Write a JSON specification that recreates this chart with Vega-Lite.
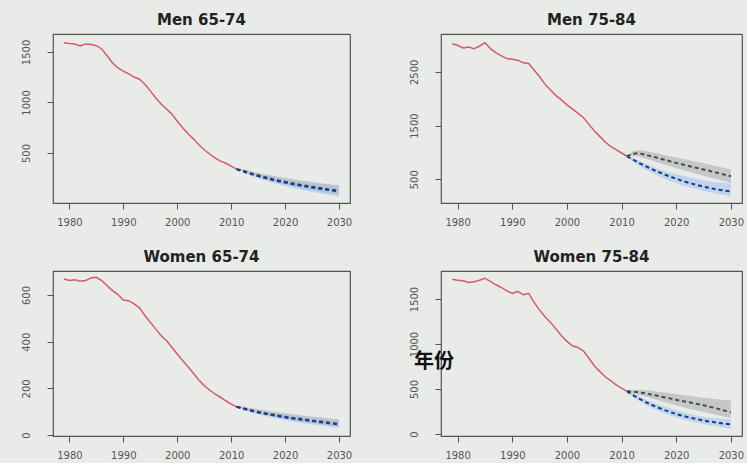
{
 "$schema": "https://vega.github.io/schema/vega-lite/v6.json",
 "background": "#e9ebe8",
 "padding": {"left": 20, "top": 12, "right": 2, "bottom": 2},
 "config": {
  "view": {"stroke": "#555", "strokeWidth": 1.2},
  "axis": {"domain": false, "grid": false, "tickColor": "#555", "tickSize": 6, "tickWidth": 1, "labelFont": "DejaVu Sans", "labelFontSize": 10, "labelColor": "#555", "labelFlush": false, "labelOverlap": false},
  "axisX": {"labelPadding": 8},
  "axisY": {"labelPadding": 16},
  "title": {"font": "DejaVu Sans", "fontSize": 15, "fontWeight": "bold", "color": "#222", "offset": 6}
 },
 "datasets": {"rates": [
  {"p":"Men 65-74","year":1979,"obs":1592},{"p":"Men 65-74","year":1980,"obs":1584},{"p":"Men 65-74","year":1981,"obs":1578},{"p":"Men 65-74","year":1982,"obs":1560},{"p":"Men 65-74","year":1983,"obs":1580},{"p":"Men 65-74","year":1984,"obs":1575},{"p":"Men 65-74","year":1985,"obs":1562},{"p":"Men 65-74","year":1986,"obs":1530},{"p":"Men 65-74","year":1987,"obs":1462},{"p":"Men 65-74","year":1988,"obs":1392},{"p":"Men 65-74","year":1989,"obs":1342},{"p":"Men 65-74","year":1990,"obs":1310},{"p":"Men 65-74","year":1991,"obs":1283},{"p":"Men 65-74","year":1992,"obs":1252},{"p":"Men 65-74","year":1993,"obs":1230},{"p":"Men 65-74","year":1994,"obs":1180},{"p":"Men 65-74","year":1995,"obs":1115},{"p":"Men 65-74","year":1996,"obs":1047},{"p":"Men 65-74","year":1997,"obs":985},{"p":"Men 65-74","year":1998,"obs":935},{"p":"Men 65-74","year":1999,"obs":885},{"p":"Men 65-74","year":2000,"obs":815},{"p":"Men 65-74","year":2001,"obs":750},{"p":"Men 65-74","year":2002,"obs":690},{"p":"Men 65-74","year":2003,"obs":640},{"p":"Men 65-74","year":2004,"obs":582},{"p":"Men 65-74","year":2005,"obs":532},{"p":"Men 65-74","year":2006,"obs":490},{"p":"Men 65-74","year":2007,"obs":452},{"p":"Men 65-74","year":2008,"obs":420},{"p":"Men 65-74","year":2009,"obs":398},{"p":"Men 65-74","year":2010,"obs":370},
  {"p":"Men 65-74","year":2011,"obs":340,"g":340,"glo":340,"ghi":340,"b":340,"blo":340,"bhi":340},
  {"p":"Men 65-74","year":2012,"g":329,"glo":325,"ghi":341,"b":321,"blo":313,"bhi":329},
  {"p":"Men 65-74","year":2013,"g":311,"glo":305,"ghi":328,"b":303,"blo":290,"bhi":316},
  {"p":"Men 65-74","year":2014,"g":294,"glo":284,"ghi":315,"b":286,"blo":269,"bhi":303},
  {"p":"Men 65-74","year":2015,"g":279,"glo":265,"ghi":304,"b":271,"blo":250,"bhi":292},
  {"p":"Men 65-74","year":2016,"g":264,"glo":247,"ghi":292,"b":256,"blo":232,"bhi":280},
  {"p":"Men 65-74","year":2017,"g":251,"glo":231,"ghi":282,"b":243,"blo":216,"bhi":270},
  {"p":"Men 65-74","year":2018,"g":238,"glo":215,"ghi":272,"b":230,"blo":200,"bhi":260},
  {"p":"Men 65-74","year":2019,"g":226,"glo":201,"ghi":262,"b":218,"blo":186,"bhi":250},
  {"p":"Men 65-74","year":2020,"g":215,"glo":188,"ghi":253,"b":207,"blo":173,"bhi":241},
  {"p":"Men 65-74","year":2021,"g":204,"glo":175,"ghi":244,"b":196,"blo":160,"bhi":232},
  {"p":"Men 65-74","year":2022,"g":194,"glo":163,"ghi":236,"b":186,"blo":148,"bhi":224},
  {"p":"Men 65-74","year":2023,"g":184,"glo":151,"ghi":228,"b":176,"blo":136,"bhi":216},
  {"p":"Men 65-74","year":2024,"g":175,"glo":141,"ghi":220,"b":167,"blo":126,"bhi":208},
  {"p":"Men 65-74","year":2025,"g":166,"glo":130,"ghi":213,"b":158,"blo":115,"bhi":201},
  {"p":"Men 65-74","year":2026,"g":158,"glo":121,"ghi":206,"b":150,"blo":106,"bhi":194},
  {"p":"Men 65-74","year":2027,"g":150,"glo":112,"ghi":199,"b":142,"blo":97,"bhi":187},
  {"p":"Men 65-74","year":2028,"g":142,"glo":103,"ghi":192,"b":134,"blo":88,"bhi":180},
  {"p":"Men 65-74","year":2029,"g":135,"glo":95,"ghi":186,"b":127,"blo":80,"bhi":174},
  {"p":"Men 65-74","year":2030,"g":128,"glo":87,"ghi":180,"b":120,"blo":72,"bhi":168},

  {"p":"Men 75-84","year":1979,"obs":3024},{"p":"Men 75-84","year":1980,"obs":2995},{"p":"Men 75-84","year":1981,"obs":2945},{"p":"Men 75-84","year":1982,"obs":2963},{"p":"Men 75-84","year":1983,"obs":2932},{"p":"Men 75-84","year":1984,"obs":2976},{"p":"Men 75-84","year":1985,"obs":3043},{"p":"Men 75-84","year":1986,"obs":2932},{"p":"Men 75-84","year":1987,"obs":2858},{"p":"Men 75-84","year":1988,"obs":2797},{"p":"Men 75-84","year":1989,"obs":2747},{"p":"Men 75-84","year":1990,"obs":2735},{"p":"Men 75-84","year":1991,"obs":2717},{"p":"Men 75-84","year":1992,"obs":2667},{"p":"Men 75-84","year":1993,"obs":2655},{"p":"Men 75-84","year":1994,"obs":2532},{"p":"Men 75-84","year":1995,"obs":2408},{"p":"Men 75-84","year":1996,"obs":2266},{"p":"Men 75-84","year":1997,"obs":2162},{"p":"Men 75-84","year":1998,"obs":2057},{"p":"Men 75-84","year":1999,"obs":1977},{"p":"Men 75-84","year":2000,"obs":1884},{"p":"Men 75-84","year":2001,"obs":1810},{"p":"Men 75-84","year":2002,"obs":1730},{"p":"Men 75-84","year":2003,"obs":1650},{"p":"Men 75-84","year":2004,"obs":1526},{"p":"Men 75-84","year":2005,"obs":1404},{"p":"Men 75-84","year":2006,"obs":1298},{"p":"Men 75-84","year":2007,"obs":1193},{"p":"Men 75-84","year":2008,"obs":1113},{"p":"Men 75-84","year":2009,"obs":1052},{"p":"Men 75-84","year":2010,"obs":989},
  {"p":"Men 75-84","year":2011,"obs":928,"g":928,"glo":928,"ghi":928,"b":928,"blo":928,"bhi":928},
  {"p":"Men 75-84","year":2012,"g":975,"glo":935,"ghi":1015,"b":870,"blo":830,"bhi":905},
  {"p":"Men 75-84","year":2013,"g":985,"glo":930,"ghi":1040,"b":815,"blo":760,"bhi":855},
  {"p":"Men 75-84","year":2014,"g":965,"glo":900,"ghi":1030,"b":763,"blo":700,"bhi":810},
  {"p":"Men 75-84","year":2015,"g":940,"glo":868,"ghi":1012,"b":714,"blo":645,"bhi":765},
  {"p":"Men 75-84","year":2016,"g":915,"glo":837,"ghi":993,"b":668,"blo":595,"bhi":725},
  {"p":"Men 75-84","year":2017,"g":888,"glo":804,"ghi":972,"b":625,"blo":550,"bhi":685},
  {"p":"Men 75-84","year":2018,"g":860,"glo":771,"ghi":949,"b":584,"blo":505,"bhi":650},
  {"p":"Men 75-84","year":2019,"g":832,"glo":738,"ghi":926,"b":545,"blo":465,"bhi":620},
  {"p":"Men 75-84","year":2020,"g":805,"glo":707,"ghi":903,"b":508,"blo":430,"bhi":595},
  {"p":"Men 75-84","year":2021,"g":780,"glo":678,"ghi":882,"b":474,"blo":395,"bhi":570},
  {"p":"Men 75-84","year":2022,"g":755,"glo":649,"ghi":861,"b":443,"blo":365,"bhi":545},
  {"p":"Men 75-84","year":2023,"g":730,"glo":620,"ghi":840,"b":414,"blo":335,"bhi":520},
  {"p":"Men 75-84","year":2024,"g":706,"glo":593,"ghi":819,"b":387,"blo":310,"bhi":500},
  {"p":"Men 75-84","year":2025,"g":682,"glo":566,"ghi":798,"b":362,"blo":285,"bhi":480},
  {"p":"Men 75-84","year":2026,"g":657,"glo":539,"ghi":775,"b":340,"blo":260,"bhi":465},
  {"p":"Men 75-84","year":2027,"g":632,"glo":512,"ghi":752,"b":320,"blo":240,"bhi":450},
  {"p":"Men 75-84","year":2028,"g":607,"glo":485,"ghi":729,"b":302,"blo":220,"bhi":440},
  {"p":"Men 75-84","year":2029,"g":582,"glo":458,"ghi":706,"b":286,"blo":200,"bhi":430},
  {"p":"Men 75-84","year":2030,"g":555,"glo":430,"ghi":680,"b":272,"blo":180,"bhi":420},

  {"p":"Women 65-74","year":1979,"obs":669},{"p":"Women 65-74","year":1980,"obs":662},{"p":"Women 65-74","year":1981,"obs":665},{"p":"Women 65-74","year":1982,"obs":659},{"p":"Women 65-74","year":1983,"obs":662},{"p":"Women 65-74","year":1984,"obs":673},{"p":"Women 65-74","year":1985,"obs":676},{"p":"Women 65-74","year":1986,"obs":662},{"p":"Women 65-74","year":1987,"obs":640},{"p":"Women 65-74","year":1988,"obs":619},{"p":"Women 65-74","year":1989,"obs":602},{"p":"Women 65-74","year":1990,"obs":579},{"p":"Women 65-74","year":1991,"obs":576},{"p":"Women 65-74","year":1992,"obs":562},{"p":"Women 65-74","year":1993,"obs":545},{"p":"Women 65-74","year":1994,"obs":512},{"p":"Women 65-74","year":1995,"obs":483},{"p":"Women 65-74","year":1996,"obs":455},{"p":"Women 65-74","year":1997,"obs":426},{"p":"Women 65-74","year":1998,"obs":405},{"p":"Women 65-74","year":1999,"obs":376},{"p":"Women 65-74","year":2000,"obs":347},{"p":"Women 65-74","year":2001,"obs":319},{"p":"Women 65-74","year":2002,"obs":293},{"p":"Women 65-74","year":2003,"obs":265},{"p":"Women 65-74","year":2004,"obs":236},{"p":"Women 65-74","year":2005,"obs":212},{"p":"Women 65-74","year":2006,"obs":193},{"p":"Women 65-74","year":2007,"obs":176},{"p":"Women 65-74","year":2008,"obs":162},{"p":"Women 65-74","year":2009,"obs":147},{"p":"Women 65-74","year":2010,"obs":133},
  {"p":"Women 65-74","year":2011,"obs":121,"g":121,"glo":121,"ghi":121,"b":121,"blo":121,"bhi":121},
  {"p":"Women 65-74","year":2012,"g":117,"glo":115,"ghi":123,"b":114,"blo":110,"bhi":118},
  {"p":"Women 65-74","year":2013,"g":111,"glo":107,"ghi":119,"b":108,"blo":102,"bhi":114},
  {"p":"Women 65-74","year":2014,"g":105,"glo":100,"ghi":115,"b":102,"blo":95,"bhi":110},
  {"p":"Women 65-74","year":2015,"g":100,"glo":94,"ghi":111,"b":97,"blo":89,"bhi":106},
  {"p":"Women 65-74","year":2016,"g":95,"glo":88,"ghi":107,"b":92,"blo":83,"bhi":102},
  {"p":"Women 65-74","year":2017,"g":91,"glo":83,"ghi":103,"b":88,"blo":78,"bhi":98},
  {"p":"Women 65-74","year":2018,"g":87,"glo":78,"ghi":100,"b":84,"blo":73,"bhi":95},
  {"p":"Women 65-74","year":2019,"g":83,"glo":74,"ghi":97,"b":80,"blo":69,"bhi":92},
  {"p":"Women 65-74","year":2020,"g":79,"glo":69,"ghi":94,"b":76,"blo":64,"bhi":89},
  {"p":"Women 65-74","year":2021,"g":75,"glo":65,"ghi":91,"b":72,"blo":60,"bhi":86},
  {"p":"Women 65-74","year":2022,"g":72,"glo":61,"ghi":88,"b":69,"blo":56,"bhi":83},
  {"p":"Women 65-74","year":2023,"g":69,"glo":58,"ghi":85,"b":66,"blo":53,"bhi":80},
  {"p":"Women 65-74","year":2024,"g":66,"glo":54,"ghi":82,"b":63,"blo":49,"bhi":77},
  {"p":"Women 65-74","year":2025,"g":63,"glo":51,"ghi":80,"b":60,"blo":46,"bhi":75},
  {"p":"Women 65-74","year":2026,"g":60,"glo":48,"ghi":77,"b":57,"blo":43,"bhi":72},
  {"p":"Women 65-74","year":2027,"g":57,"glo":45,"ghi":75,"b":54,"blo":40,"bhi":70},
  {"p":"Women 65-74","year":2028,"g":54,"glo":42,"ghi":72,"b":51,"blo":37,"bhi":67},
  {"p":"Women 65-74","year":2029,"g":51,"glo":39,"ghi":70,"b":48,"blo":34,"bhi":65},
  {"p":"Women 65-74","year":2030,"g":48,"glo":36,"ghi":68,"b":45,"blo":31,"bhi":63},

  {"p":"Women 75-84","year":1979,"obs":1720},{"p":"Women 75-84","year":1980,"obs":1709},{"p":"Women 75-84","year":1981,"obs":1702},{"p":"Women 75-84","year":1982,"obs":1684},{"p":"Women 75-84","year":1983,"obs":1691},{"p":"Women 75-84","year":1984,"obs":1709},{"p":"Women 75-84","year":1985,"obs":1731},{"p":"Women 75-84","year":1986,"obs":1695},{"p":"Women 75-84","year":1987,"obs":1658},{"p":"Women 75-84","year":1988,"obs":1628},{"p":"Women 75-84","year":1989,"obs":1591},{"p":"Women 75-84","year":1990,"obs":1562},{"p":"Women 75-84","year":1991,"obs":1584},{"p":"Women 75-84","year":1992,"obs":1547},{"p":"Women 75-84","year":1993,"obs":1562},{"p":"Women 75-84","year":1994,"obs":1462},{"p":"Women 75-84","year":1995,"obs":1376},{"p":"Women 75-84","year":1996,"obs":1302},{"p":"Women 75-84","year":1997,"obs":1240},{"p":"Women 75-84","year":1998,"obs":1166},{"p":"Women 75-84","year":1999,"obs":1091},{"p":"Women 75-84","year":2000,"obs":1029},{"p":"Women 75-84","year":2001,"obs":980},{"p":"Women 75-84","year":2002,"obs":962},{"p":"Women 75-84","year":2003,"obs":925},{"p":"Women 75-84","year":2004,"obs":844},{"p":"Women 75-84","year":2005,"obs":758},{"p":"Women 75-84","year":2006,"obs":696},{"p":"Women 75-84","year":2007,"obs":636},{"p":"Women 75-84","year":2008,"obs":592},{"p":"Women 75-84","year":2009,"obs":547},{"p":"Women 75-84","year":2010,"obs":511},
  {"p":"Women 75-84","year":2011,"obs":474,"g":474,"glo":474,"ghi":474,"b":474,"blo":474,"bhi":474},
  {"p":"Women 75-84","year":2012,"g":472,"glo":455,"ghi":490,"b":436,"blo":418,"bhi":455},
  {"p":"Women 75-84","year":2013,"g":465,"glo":440,"ghi":492,"b":400,"blo":376,"bhi":424},
  {"p":"Women 75-84","year":2014,"g":455,"glo":422,"ghi":489,"b":368,"blo":340,"bhi":396},
  {"p":"Women 75-84","year":2015,"g":443,"glo":405,"ghi":483,"b":338,"blo":306,"bhi":370},
  {"p":"Women 75-84","year":2016,"g":431,"glo":388,"ghi":476,"b":311,"blo":276,"bhi":346},
  {"p":"Women 75-84","year":2017,"g":419,"glo":370,"ghi":468,"b":286,"blo":249,"bhi":323},
  {"p":"Women 75-84","year":2018,"g":406,"glo":353,"ghi":460,"b":263,"blo":225,"bhi":302},
  {"p":"Women 75-84","year":2019,"g":393,"glo":335,"ghi":452,"b":242,"blo":203,"bhi":282},
  {"p":"Women 75-84","year":2020,"g":380,"glo":318,"ghi":444,"b":222,"blo":183,"bhi":263},
  {"p":"Women 75-84","year":2021,"g":368,"glo":302,"ghi":435,"b":205,"blo":166,"bhi":246},
  {"p":"Women 75-84","year":2022,"g":356,"glo":287,"ghi":427,"b":190,"blo":151,"bhi":230},
  {"p":"Women 75-84","year":2023,"g":344,"glo":272,"ghi":419,"b":176,"blo":137,"bhi":216},
  {"p":"Women 75-84","year":2024,"g":332,"glo":258,"ghi":411,"b":163,"blo":124,"bhi":203},
  {"p":"Women 75-84","year":2025,"g":320,"glo":244,"ghi":403,"b":151,"blo":112,"bhi":191},
  {"p":"Women 75-84","year":2026,"g":305,"glo":230,"ghi":396,"b":140,"blo":100,"bhi":182},
  {"p":"Women 75-84","year":2027,"g":290,"glo":216,"ghi":389,"b":131,"blo":89,"bhi":175},
  {"p":"Women 75-84","year":2028,"g":274,"glo":203,"ghi":383,"b":122,"blo":79,"bhi":169},
  {"p":"Women 75-84","year":2029,"g":257,"glo":190,"ghi":378,"b":114,"blo":69,"bhi":164},
  {"p":"Women 75-84","year":2030,"g":240,"glo":178,"ghi":372,"b":107,"blo":60,"bhi":160}
 ],
 "note": [{"label": "年份", "year": 1975.7, "value": 800}]},
 "columns": 2,
 "spacing": {"row": 68, "column": 91},
 "bounds": "flush",
 "concat": [
   {"width": 297, "height": 169, "title": "Men 65-74",
    "encoding": {"x": {"field": "year", "type": "quantitative", "title": null, "scale": {"domain": [1976.96, 2032.04], "nice": false, "zero": false}, "axis": {"values": [1980, 1990, 2000, 2010, 2020, 2030], "format": "d"}}},
    "layer": [
     {"data": {"name": "rates"}, "transform": [{"filter": "datum.p == 'Men 65-74'"}], "mark": {"type": "area", "color": "#a9acab", "opacity": 0.55}, "encoding": {"y": {"field": "glo", "type": "quantitative", "title": null, "scale": {"domain": [5, 1678], "nice": false, "zero": false}, "axis": {"values": [500, 1000, 1500], "format": "d", "labelAngle": -90, "encode": {"labels": {"update": {"angle": {"value": -90}, "align": {"value": "center"}, "baseline": {"value": "bottom"}}}}}}, "y2": {"field": "ghi"}}},
     {"data": {"name": "rates"}, "transform": [{"filter": "datum.p == 'Men 65-74'"}], "mark": {"type": "area", "color": "#9cc3f0", "opacity": 0.55}, "encoding": {"y": {"field": "blo", "type": "quantitative", "title": null}, "y2": {"field": "bhi"}}},
     {"data": {"name": "rates"}, "transform": [{"filter": "datum.p == 'Men 65-74'"}], "mark": {"type": "line", "color": "#d65a6e", "strokeWidth": 1.5}, "encoding": {"y": {"field": "obs", "type": "quantitative", "title": null}}},
     {"data": {"name": "rates"}, "transform": [{"filter": "datum.p == 'Men 65-74'"}], "mark": {"type": "line", "color": "#4a4a4a", "strokeWidth": 2, "strokeDash": [4, 3]}, "encoding": {"y": {"field": "g", "type": "quantitative", "title": null}}},
     {"data": {"name": "rates"}, "transform": [{"filter": "datum.p == 'Men 65-74'"}], "mark": {"type": "line", "color": "#1c3a8c", "strokeWidth": 2, "strokeDash": [4, 3]}, "encoding": {"y": {"field": "b", "type": "quantitative", "title": null}}}
    ]},
   {"width": 301, "height": 169, "title": "Men 75-84",
    "encoding": {"x": {"field": "year", "type": "quantitative", "title": null, "scale": {"domain": [1976.96, 2032.04], "nice": false, "zero": false}, "axis": {"values": [1980, 1990, 2000, 2010, 2020, 2030], "format": "d"}}},
    "layer": [
     {"data": {"name": "rates"}, "transform": [{"filter": "datum.p == 'Men 75-84'"}], "mark": {"type": "area", "color": "#a9acab", "opacity": 0.55}, "encoding": {"y": {"field": "glo", "type": "quantitative", "title": null, "scale": {"domain": [58, 3204], "nice": false, "zero": false}, "axis": {"values": [500, 1500, 2500], "format": "d", "labelAngle": -90, "encode": {"labels": {"update": {"angle": {"value": -90}, "align": {"value": "center"}, "baseline": {"value": "bottom"}}}}}}, "y2": {"field": "ghi"}}},
     {"data": {"name": "rates"}, "transform": [{"filter": "datum.p == 'Men 75-84'"}], "mark": {"type": "area", "color": "#9cc3f0", "opacity": 0.55}, "encoding": {"y": {"field": "blo", "type": "quantitative", "title": null}, "y2": {"field": "bhi"}}},
     {"data": {"name": "rates"}, "transform": [{"filter": "datum.p == 'Men 75-84'"}], "mark": {"type": "line", "color": "#d65a6e", "strokeWidth": 1.5}, "encoding": {"y": {"field": "obs", "type": "quantitative", "title": null}}},
     {"data": {"name": "rates"}, "transform": [{"filter": "datum.p == 'Men 75-84'"}], "mark": {"type": "line", "color": "#4a4a4a", "strokeWidth": 2, "strokeDash": [4, 3]}, "encoding": {"y": {"field": "g", "type": "quantitative", "title": null}}},
     {"data": {"name": "rates"}, "transform": [{"filter": "datum.p == 'Men 75-84'"}], "mark": {"type": "line", "color": "#1c3a8c", "strokeWidth": 2, "strokeDash": [4, 3]}, "encoding": {"y": {"field": "b", "type": "quantitative", "title": null}}}
    ]},
   {"width": 297, "height": 165, "title": "Women 65-74",
    "encoding": {"x": {"field": "year", "type": "quantitative", "title": null, "scale": {"domain": [1976.96, 2032.04], "nice": false, "zero": false}, "axis": {"values": [1980, 1990, 2000, 2010, 2020, 2030], "format": "d"}}},
    "layer": [
     {"data": {"name": "rates"}, "transform": [{"filter": "datum.p == 'Women 65-74'"}], "mark": {"type": "area", "color": "#a9acab", "opacity": 0.55}, "encoding": {"y": {"field": "glo", "type": "quantitative", "title": null, "scale": {"domain": [-4, 703], "nice": false, "zero": false}, "axis": {"values": [0, 200, 400, 600], "format": "d", "labelAngle": -90, "encode": {"labels": {"update": {"angle": {"value": -90}, "align": {"value": "center"}, "baseline": {"value": "bottom"}}}}}}, "y2": {"field": "ghi"}}},
     {"data": {"name": "rates"}, "transform": [{"filter": "datum.p == 'Women 65-74'"}], "mark": {"type": "area", "color": "#9cc3f0", "opacity": 0.55}, "encoding": {"y": {"field": "blo", "type": "quantitative", "title": null}, "y2": {"field": "bhi"}}},
     {"data": {"name": "rates"}, "transform": [{"filter": "datum.p == 'Women 65-74'"}], "mark": {"type": "line", "color": "#d65a6e", "strokeWidth": 1.5}, "encoding": {"y": {"field": "obs", "type": "quantitative", "title": null}}},
     {"data": {"name": "rates"}, "transform": [{"filter": "datum.p == 'Women 65-74'"}], "mark": {"type": "line", "color": "#4a4a4a", "strokeWidth": 2, "strokeDash": [4, 3]}, "encoding": {"y": {"field": "g", "type": "quantitative", "title": null}}},
     {"data": {"name": "rates"}, "transform": [{"filter": "datum.p == 'Women 65-74'"}], "mark": {"type": "line", "color": "#1c3a8c", "strokeWidth": 2, "strokeDash": [4, 3]}, "encoding": {"y": {"field": "b", "type": "quantitative", "title": null}}}
    ]},
   {"width": 301, "height": 165, "title": "Women 75-84",
    "encoding": {"x": {"field": "year", "type": "quantitative", "title": null, "scale": {"domain": [1976.96, 2032.04], "nice": false, "zero": false}, "axis": {"values": [1980, 1990, 2000, 2010, 2020, 2030], "format": "d"}}},
    "layer": [
     {"data": {"name": "rates"}, "transform": [{"filter": "datum.p == 'Women 75-84'"}], "mark": {"type": "area", "color": "#a9acab", "opacity": 0.55}, "encoding": {"y": {"field": "glo", "type": "quantitative", "title": null, "scale": {"domain": [-22, 1811], "nice": false, "zero": false}, "axis": {"values": [0, 500, 1000, 1500], "format": "d", "labelAngle": -90, "encode": {"labels": {"update": {"angle": {"value": -90}, "align": {"value": "center"}, "baseline": {"value": "bottom"}}}}}}, "y2": {"field": "ghi"}}},
     {"data": {"name": "rates"}, "transform": [{"filter": "datum.p == 'Women 75-84'"}], "mark": {"type": "area", "color": "#9cc3f0", "opacity": 0.55}, "encoding": {"y": {"field": "blo", "type": "quantitative", "title": null}, "y2": {"field": "bhi"}}},
     {"data": {"name": "rates"}, "transform": [{"filter": "datum.p == 'Women 75-84'"}], "mark": {"type": "line", "color": "#d65a6e", "strokeWidth": 1.5}, "encoding": {"y": {"field": "obs", "type": "quantitative", "title": null}}},
     {"data": {"name": "rates"}, "transform": [{"filter": "datum.p == 'Women 75-84'"}], "mark": {"type": "line", "color": "#4a4a4a", "strokeWidth": 2, "strokeDash": [4, 3]}, "encoding": {"y": {"field": "g", "type": "quantitative", "title": null}}},
     {"data": {"name": "rates"}, "transform": [{"filter": "datum.p == 'Women 75-84'"}], "mark": {"type": "line", "color": "#1c3a8c", "strokeWidth": 2, "strokeDash": [4, 3]}, "encoding": {"y": {"field": "b", "type": "quantitative", "title": null}}},
     {"data": {"name": "note"}, "mark": {"type": "text", "font": "Noto Sans CJK SC", "fontSize": 20, "fontWeight": "bold", "color": "#111"}, "encoding": {"text": {"field": "label", "type": "nominal"}, "x": {"field": "year", "type": "quantitative", "title": null}, "y": {"field": "value", "type": "quantitative", "title": null}}}
    ]}
 ]
}
